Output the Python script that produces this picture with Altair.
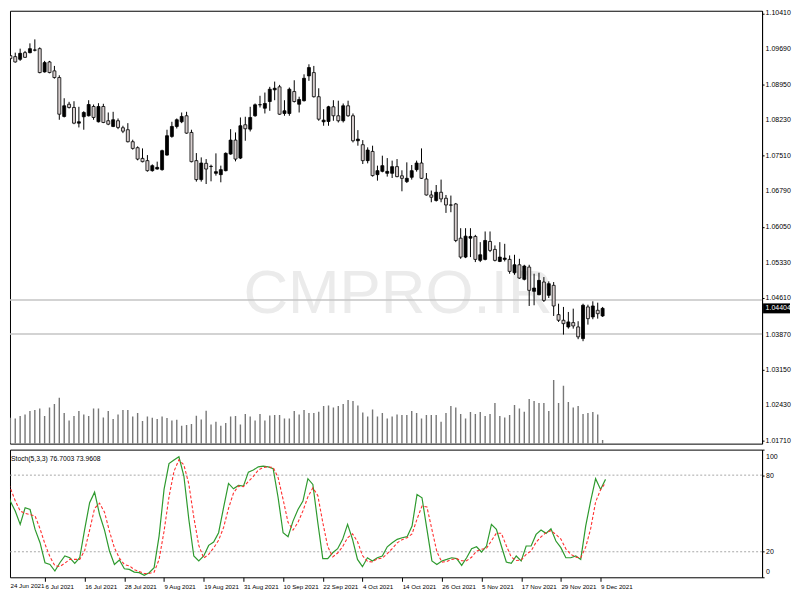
import json
import altair as alt
import pandas as pd

# ---------------- data ----------------
date_labels = ["24 Jun 2021", "6 Jul 2021", "16 Jul 2021", "28 Jul 2021", "9 Aug 2021",
               "19 Aug 2021", "31 Aug 2021", "10 Sep 2021", "22 Sep 2021", "4 Oct 2021",
               "14 Oct 2021", "26 Oct 2021", "5 Nov 2021", "17 Nov 2021", "29 Nov 2021",
               "9 Dec 2021"]

opens = [1.09548, 1.09528, 1.09473, 1.09609, 1.09609, 1.09660, 1.09690, 1.09217, 1.09420, 1.09238,
         1.09102, 1.08310, 1.08559, 1.08493, 1.08174, 1.08304, 1.08324, 1.08513, 1.08202, 1.08513,
         1.08223, 1.08107, 1.08223, 1.08080, 1.08040, 1.07796, 1.07674, 1.07457, 1.07411, 1.07207,
         1.07240, 1.07228, 1.07524, 1.07904, 1.08107, 1.08202, 1.08324, 1.07985, 1.07411, 1.07025,
         1.07356, 1.07295, 1.07153, 1.07126, 1.07207, 1.07545, 1.07829, 1.07463, 1.08141, 1.08052,
         1.08324, 1.08547, 1.08478, 1.08614, 1.08852, 1.08913, 1.08371, 1.08371, 1.08817, 1.08559,
         1.08631, 1.09136, 1.09203, 1.08712, 1.08202, 1.08208, 1.08507, 1.08324, 1.08223, 1.08527,
         1.08324, 1.07816, 1.07735, 1.07411, 1.07599, 1.07126, 1.07193, 1.07153, 1.07153, 1.07289,
         1.07102, 1.06984, 1.07072, 1.07228, 1.07362, 1.07037, 1.06712, 1.06599, 1.06767, 1.06645,
         1.06509, 1.06529, 1.05833, 1.05448, 1.05833, 1.05868, 1.05381, 1.05401, 1.05766, 1.05604,
         1.05360, 1.05401, 1.05401, 1.05129, 1.05291, 1.04995, 1.05244, 1.04751, 1.04682, 1.04940,
         1.04670, 1.04873, 1.04276, 1.04162, 1.04026, 1.04114, 1.04026, 1.03789, 1.04433, 1.04230,
         1.04365, 1.04250]

highs = [1.09609, 1.09609, 1.09690, 1.09644, 1.09798, 1.09879, 1.09716, 1.09441, 1.09441, 1.09339,
         1.09148, 1.08681, 1.08608, 1.08620, 1.08507, 1.08417, 1.08641, 1.08553, 1.08580, 1.08568,
         1.08391, 1.08405, 1.08269, 1.08121, 1.08174, 1.07837, 1.07701, 1.07660, 1.07524, 1.07335,
         1.07390, 1.07634, 1.08040, 1.08202, 1.08269, 1.08391, 1.08405, 1.08040, 1.07565, 1.07477,
         1.07443, 1.07329, 1.07559, 1.07309, 1.07579, 1.08052, 1.07985, 1.08290, 1.08304, 1.08507,
         1.08574, 1.08731, 1.08797, 1.08913, 1.09020, 1.08953, 1.08641, 1.08899, 1.09047, 1.08712,
         1.09168, 1.09372, 1.09339, 1.08884, 1.08458, 1.08527, 1.08641, 1.08631, 1.08574, 1.08631,
         1.08371, 1.08032, 1.07829, 1.07681, 1.07715, 1.07309, 1.07512, 1.07463, 1.07411, 1.07443,
         1.07214, 1.07376, 1.07322, 1.07411, 1.07660, 1.07159, 1.06802, 1.06915, 1.07025, 1.06712,
         1.06700, 1.06550, 1.06036, 1.06036, 1.06036, 1.05900, 1.05752, 1.05969, 1.05969, 1.05685,
         1.05752, 1.05718, 1.05482, 1.05495, 1.05413, 1.05291, 1.05291, 1.05109, 1.05129, 1.05041,
         1.04954, 1.04940, 1.04499, 1.04433, 1.04331, 1.04398, 1.04142, 1.04499, 1.04479, 1.04548,
         1.04520, 1.04433]

lows = [1.09447, 1.09406, 1.09441, 1.09501, 1.09595, 1.09635, 1.09189, 1.09203, 1.09189, 1.09081,
        1.08243, 1.08290, 1.08472, 1.08153, 1.08087, 1.08040, 1.08310, 1.08243, 1.08188, 1.08174,
        1.08133, 1.08093, 1.08052, 1.07971, 1.07782, 1.07634, 1.07417, 1.07376, 1.07187, 1.07187,
        1.07228, 1.07207, 1.07512, 1.07877, 1.08066, 1.08174, 1.07959, 1.07376, 1.06984, 1.06984,
        1.06935, 1.06990, 1.07106, 1.06970, 1.07193, 1.07532, 1.07396, 1.07443, 1.07816, 1.08005,
        1.08304, 1.08493, 1.08371, 1.08425, 1.08641, 1.08344, 1.08324, 1.08324, 1.08594, 1.08391,
        1.08614, 1.09035, 1.08696, 1.08223, 1.08121, 1.08121, 1.08223, 1.08188, 1.08188, 1.08304,
        1.07782, 1.07715, 1.07342, 1.07356, 1.07086, 1.07004, 1.07173, 1.07086, 1.07057, 1.07072,
        1.06787, 1.06956, 1.07025, 1.07187, 1.07037, 1.06700, 1.06564, 1.06578, 1.06564, 1.06347,
        1.06361, 1.05752, 1.05413, 1.05427, 1.05448, 1.05346, 1.05346, 1.05381, 1.05549, 1.05360,
        1.05346, 1.05360, 1.05109, 1.05088, 1.05007, 1.04974, 1.04453, 1.04467, 1.04670, 1.04534,
        1.04615, 1.04250, 1.04128, 1.03870, 1.03992, 1.03992, 1.03777, 1.03736, 1.04073, 1.04183,
        1.04195, 1.04230]

closes = [1.09487, 1.09420, 1.09595, 1.09514, 1.09690, 1.09664, 1.09203, 1.09406, 1.09203, 1.09102,
          1.08356, 1.08527, 1.08493, 1.08174, 1.08202, 1.08391, 1.08553, 1.08290, 1.08513, 1.08188,
          1.08153, 1.08243, 1.08087, 1.08011, 1.07796, 1.07660, 1.07443, 1.07390, 1.07207, 1.07309,
          1.07274, 1.07614, 1.07918, 1.08107, 1.08243, 1.08310, 1.07971, 1.07390, 1.07025, 1.07362,
          1.07240, 1.07291, 1.07187, 1.07228, 1.07559, 1.07829, 1.07443, 1.08121, 1.08060, 1.08290,
          1.08547, 1.08551, 1.08574, 1.08864, 1.08884, 1.08356, 1.08425, 1.08864, 1.08614, 1.08655,
          1.09087, 1.09305, 1.08712, 1.08255, 1.08235, 1.08507, 1.08324, 1.08223, 1.08527, 1.08324,
          1.07816, 1.07849, 1.07411, 1.07626, 1.07106, 1.07207, 1.07309, 1.07193, 1.07289, 1.07086,
          1.07051, 1.07051, 1.07207, 1.07362, 1.07051, 1.06712, 1.06666, 1.06767, 1.06632, 1.06509,
          1.06505, 1.05786, 1.05448, 1.05874, 1.05868, 1.05401, 1.05495, 1.05786, 1.05583, 1.05381,
          1.05448, 1.05427, 1.05157, 1.05291, 1.05021, 1.05265, 1.04771, 1.04818, 1.04974, 1.04568,
          1.04906, 1.04453, 1.04162, 1.04093, 1.04128, 1.04047, 1.03824, 1.04467, 1.04195, 1.04453,
          1.04296, 1.04404]

volumes = [52000, 50600, 55400, 58600, 65400, 67400, 70600, 55400, 72600, 79400,
           92000, 61400, 46600, 55400, 65400, 58600, 55400, 70600, 70600, 52600,
           65400, 49400, 58600, 67400, 67400, 54600, 61400, 45400, 54600, 52000,
           49400, 54600, 51400, 46600, 48000, 36000, 37400, 39400, 56000, 48600,
           66000, 38600, 44000, 36000, 41400, 54600, 55400, 38600, 59400, 54600,
           46600, 59400, 46600, 56600, 57400, 57400, 50600, 50600, 65400, 58600,
           67400, 61400, 61400, 64000, 75400, 76600, 72600, 75400, 79400, 87400,
           85400, 76600, 62600, 54600, 68600, 54600, 61400, 50600, 54600, 58600,
           57400, 57400, 65400, 61400, 50600, 57400, 57400, 57400, 44000, 61400,
           75400, 72600, 59400, 50600, 63400, 59400, 63400, 55400, 59400, 81400,
           55400, 52600, 57400, 77400, 70600, 64000, 89400, 85400, 81400, 81400,
           65400, 127400, 81400, 116000, 83400, 72600, 75400, 59400, 61400, 63400,
           58600, 7400]

stoch_k = [75.4, 59.7, 51.9, 41.4, 54.5, 53.1, 37.5, 27.1, 11.4, 10.1,
           4.9, 11.4, 16.7, 15.3, 10.9, 15.3, 37.5, 58.4, 66.7, 49.2,
           37.0, 20.6, 10.1, 13.5, 6.7, 6.2, 4.1, 3.6, 1.5, 3.6,
           7.5, 32.3, 68.8, 89.1, 91.8, 94.4, 79.3, 45.3, 16.7, 12.8,
           16.7, 25.0, 27.6, 34.9, 54.5, 73.5, 69.3, 71.9, 71.4, 82.4,
           84.0, 86.5, 87.1, 86.5, 85.0, 62.3, 34.9, 31.8, 44.0, 53.1,
           59.7, 77.2, 72.7, 42.7, 14.6, 14.6, 19.2, 22.4, 29.7, 41.4,
           29.7, 14.0, 8.3, 15.3, 12.8, 15.3, 16.7, 23.9, 27.1, 29.7,
           31.0, 31.8, 40.1, 64.9, 62.3, 37.5, 12.8, 10.1, 12.8, 14.0,
           15.3, 14.6, 9.3, 15.3, 22.4, 23.9, 19.8, 24.5, 41.4, 37.5,
           24.5, 12.0, 10.9, 16.7, 12.8, 24.5, 24.5, 33.6, 37.0, 34.4,
           38.0, 28.4, 23.2, 15.3, 15.3, 16.7, 14.0, 40.1, 59.7, 77.2,
           68.8, 76.7]

stoch_d = [80, 70, 60, 52, 50, 49, 48, 38, 26, 16,
           9, 8.5, 11, 14, 14, 14, 21, 37, 54, 58,
           51, 36, 23, 15, 10, 9, 6, 4.5, 3, 3,
           4, 14, 36, 63, 83, 92, 88, 73, 47, 25,
           15, 18, 23, 29, 39, 54, 66, 71.5, 71, 75,
           79, 84, 86, 86.5, 86, 78, 61, 43, 37, 43,
           52, 63, 70, 64, 43, 24, 16, 19, 24, 31,
           34, 28, 17, 12.5, 12, 14.5, 15, 18.5, 22.5, 27,
           29.5, 31, 34, 45.6, 55.8, 55, 37.5, 20, 11.9, 12.3,
           14, 14.6, 13, 13, 15.7, 20.5, 22, 22.7, 28.6, 34.5,
           34.5, 24.7, 15.8, 13.2, 13.5, 18, 20.6, 27.5, 31.7, 35,
           36.5, 33.6, 29.9, 22.3, 18, 15.8, 15.3, 23.6, 38, 59,
           68.6, 73.96]

price_ticks = [1.01710, 1.02430, 1.03150, 1.03870, 1.04610, 1.05330, 1.06050,
               1.06790, 1.07510, 1.08230, 1.08950, 1.09690, 1.10410]
level_lines = [1.04573, 1.03883]
last_price = 1.04404
stoch_levels = [20, 80]
stoch_ticks = [0, 20, 80, 100]
stoch_title = "Stoch(5,3,3) 76.7003 73.9608"
watermark = "CMPRO.IR"

# ---------------- tables ----------------
n = len(opens)
df = pd.DataFrame({"i": list(range(n)), "open": opens, "high": highs, "low": lows,
                   "close": closes, "vol": volumes})
df["dir"] = ["up" if c >= o else "down" for o, c in zip(opens, closes)]
sdf = pd.DataFrame({"i": list(range(n)), "k": stoch_k, "d": stoch_d})
tdf = pd.DataFrame({"p": price_ticks, "t": [f"{v:.5f}" for v in price_ticks]})

# ---------------- layout ----------------
W, H1, H2 = 754, 434, 128
FONT = "Liberation Sans"
xs = alt.Scale(domain=[0.945, 152.56], nice=False, zero=False)
ys = alt.Scale(domain=[1.01651, 1.10462], nice=False, zero=False)
vs = alt.Scale(domain=[0, 868000], nice=False, zero=True)
sy = alt.Scale(domain=[0, 100], nice=False, zero=False)

price_axis = alt.Axis(orient="right", values=price_ticks, title=None, grid=False, labels=False,
                      tickSize=2, tickColor="black", domainColor="black")

wm = alt.Chart(pd.DataFrame({"t": [watermark]})).mark_text(
    font=FONT, fontSize=62, color="#ebebeb", align="center", baseline="middle"
).encode(x=alt.value(389), y=alt.value(284), text="t:N")

vol = alt.Chart(df).mark_bar(size=1.4, color="#777777", clip=True).encode(
    x=alt.X("i:Q", scale=xs, axis=None),
    y=alt.Y("vol:Q", scale=vs, axis=None),
)

hl = alt.Chart(pd.DataFrame({"p": level_lines})).mark_rule(color="#c4c4c4", strokeWidth=1.5).encode(
    y=alt.Y("p:Q", scale=ys, axis=price_axis)
)

plabels = alt.Chart(tdf).mark_text(font=FONT, fontSize=7, color="black", align="left",
                                   baseline="middle").encode(
    y=alt.Y("p:Q", scale=ys), x=alt.value(W + 3.5), text="t:N"
)

wick = alt.Chart(df).mark_rule(color="black", strokeWidth=1, clip=True).encode(
    x=alt.X("i:Q", scale=xs, axis=None),
    y=alt.Y("low:Q", scale=ys),
    y2="high:Q",
)

body = alt.Chart(df).mark_bar(size=3, stroke="black", strokeWidth=0.8, clip=True).encode(
    x=alt.X("i:Q", scale=xs, axis=None),
    y=alt.Y("open:Q", scale=ys),
    y2="close:Q",
    fill=alt.Fill("dir:N", scale=alt.Scale(domain=["up", "down"], range=["#000000", "#d9d0d0"]),
                  legend=None),
)

pdf = pd.DataFrame({"p": [last_price], "t": [f"{last_price:.5f}"]})
box = alt.Chart(pdf).mark_tick(color="black", size=27, thickness=10, opacity=1).encode(
    y=alt.Y("p:Q", scale=ys), x=alt.value(W + 14.5)
)
boxtxt = alt.Chart(pdf).mark_text(color="white", font=FONT, fontSize=7, align="left",
                                  baseline="middle").encode(
    y=alt.Y("p:Q", scale=ys), x=alt.value(W + 3.5), text="t:N"
)

inner = alt.layer(hl, plabels, wick, body, box, boxtxt)
top = alt.layer(wm, vol, inner).resolve_scale(y="independent").properties(width=W, height=H1)

# ---------------- stochastic panel ----------------
stoch_axis = alt.Axis(orient="right", values=stoch_ticks, title=None, grid=False,
                      labelFont=FONT, labelFontSize=7, labelColor="black", labelPadding=1.5,
                      tickSize=2, tickColor="black", domainColor="black",
                      labelFlush=True, labelFlushOffset=-3, labelOverlap=False)

label_js = json.dumps(date_labels)
x_axis = alt.Axis(values=list(range(8, 121, 8)), labelExpr=f"{label_js}[round(datum.value/8)]",
                  labelAlign="left", labelBaseline="top", labelPadding=2, tickSize=4,
                  tickColor="black", domain=False, grid=False, title=None, labelFont=FONT,
                  labelFontSize=6.2, labelColor="black", labelOverlap=False)

lev = alt.Chart(pd.DataFrame({"v": stoch_levels})).mark_rule(
    color="#a8a8a8", strokeDash=[2, 2], strokeWidth=1
).encode(y=alt.Y("v:Q", scale=sy, axis=stoch_axis))

kl = alt.Chart(sdf).mark_line(color="#2e9a2e", strokeWidth=1.2, clip=True).encode(
    x=alt.X("i:Q", scale=xs, axis=x_axis), y=alt.Y("k:Q", scale=sy)
)
dl = alt.Chart(sdf).mark_line(color="#ff3030", strokeWidth=1.1, strokeDash=[3, 2], clip=True).encode(
    x=alt.X("i:Q", scale=xs), y=alt.Y("d:Q", scale=sy)
)
ttl = alt.Chart(pd.DataFrame({"t": [stoch_title]})).mark_text(
    font=FONT, fontSize=6.8, color="black", align="left", baseline="middle"
).encode(x=alt.value(1), y=alt.value(9), text="t:N")
first_lbl = alt.Chart(pd.DataFrame({"t": [date_labels[0]]})).mark_text(
    font=FONT, fontSize=6.2, color="black", align="left", baseline="top"
).encode(x=alt.value(0.5), y=alt.value(H2 + 6), text="t:N")

bottom = alt.layer(lev, kl, dl, ttl, first_lbl).properties(width=W, height=H2)

chart = alt.vconcat(top, bottom, spacing=4).properties(
    padding=0, background="white"
).configure_view(stroke="black", strokeWidth=1).configure_axis(labelOverlap=False)

chart.save("out.html", embed_options={"renderer": "svg", "actions": False})
